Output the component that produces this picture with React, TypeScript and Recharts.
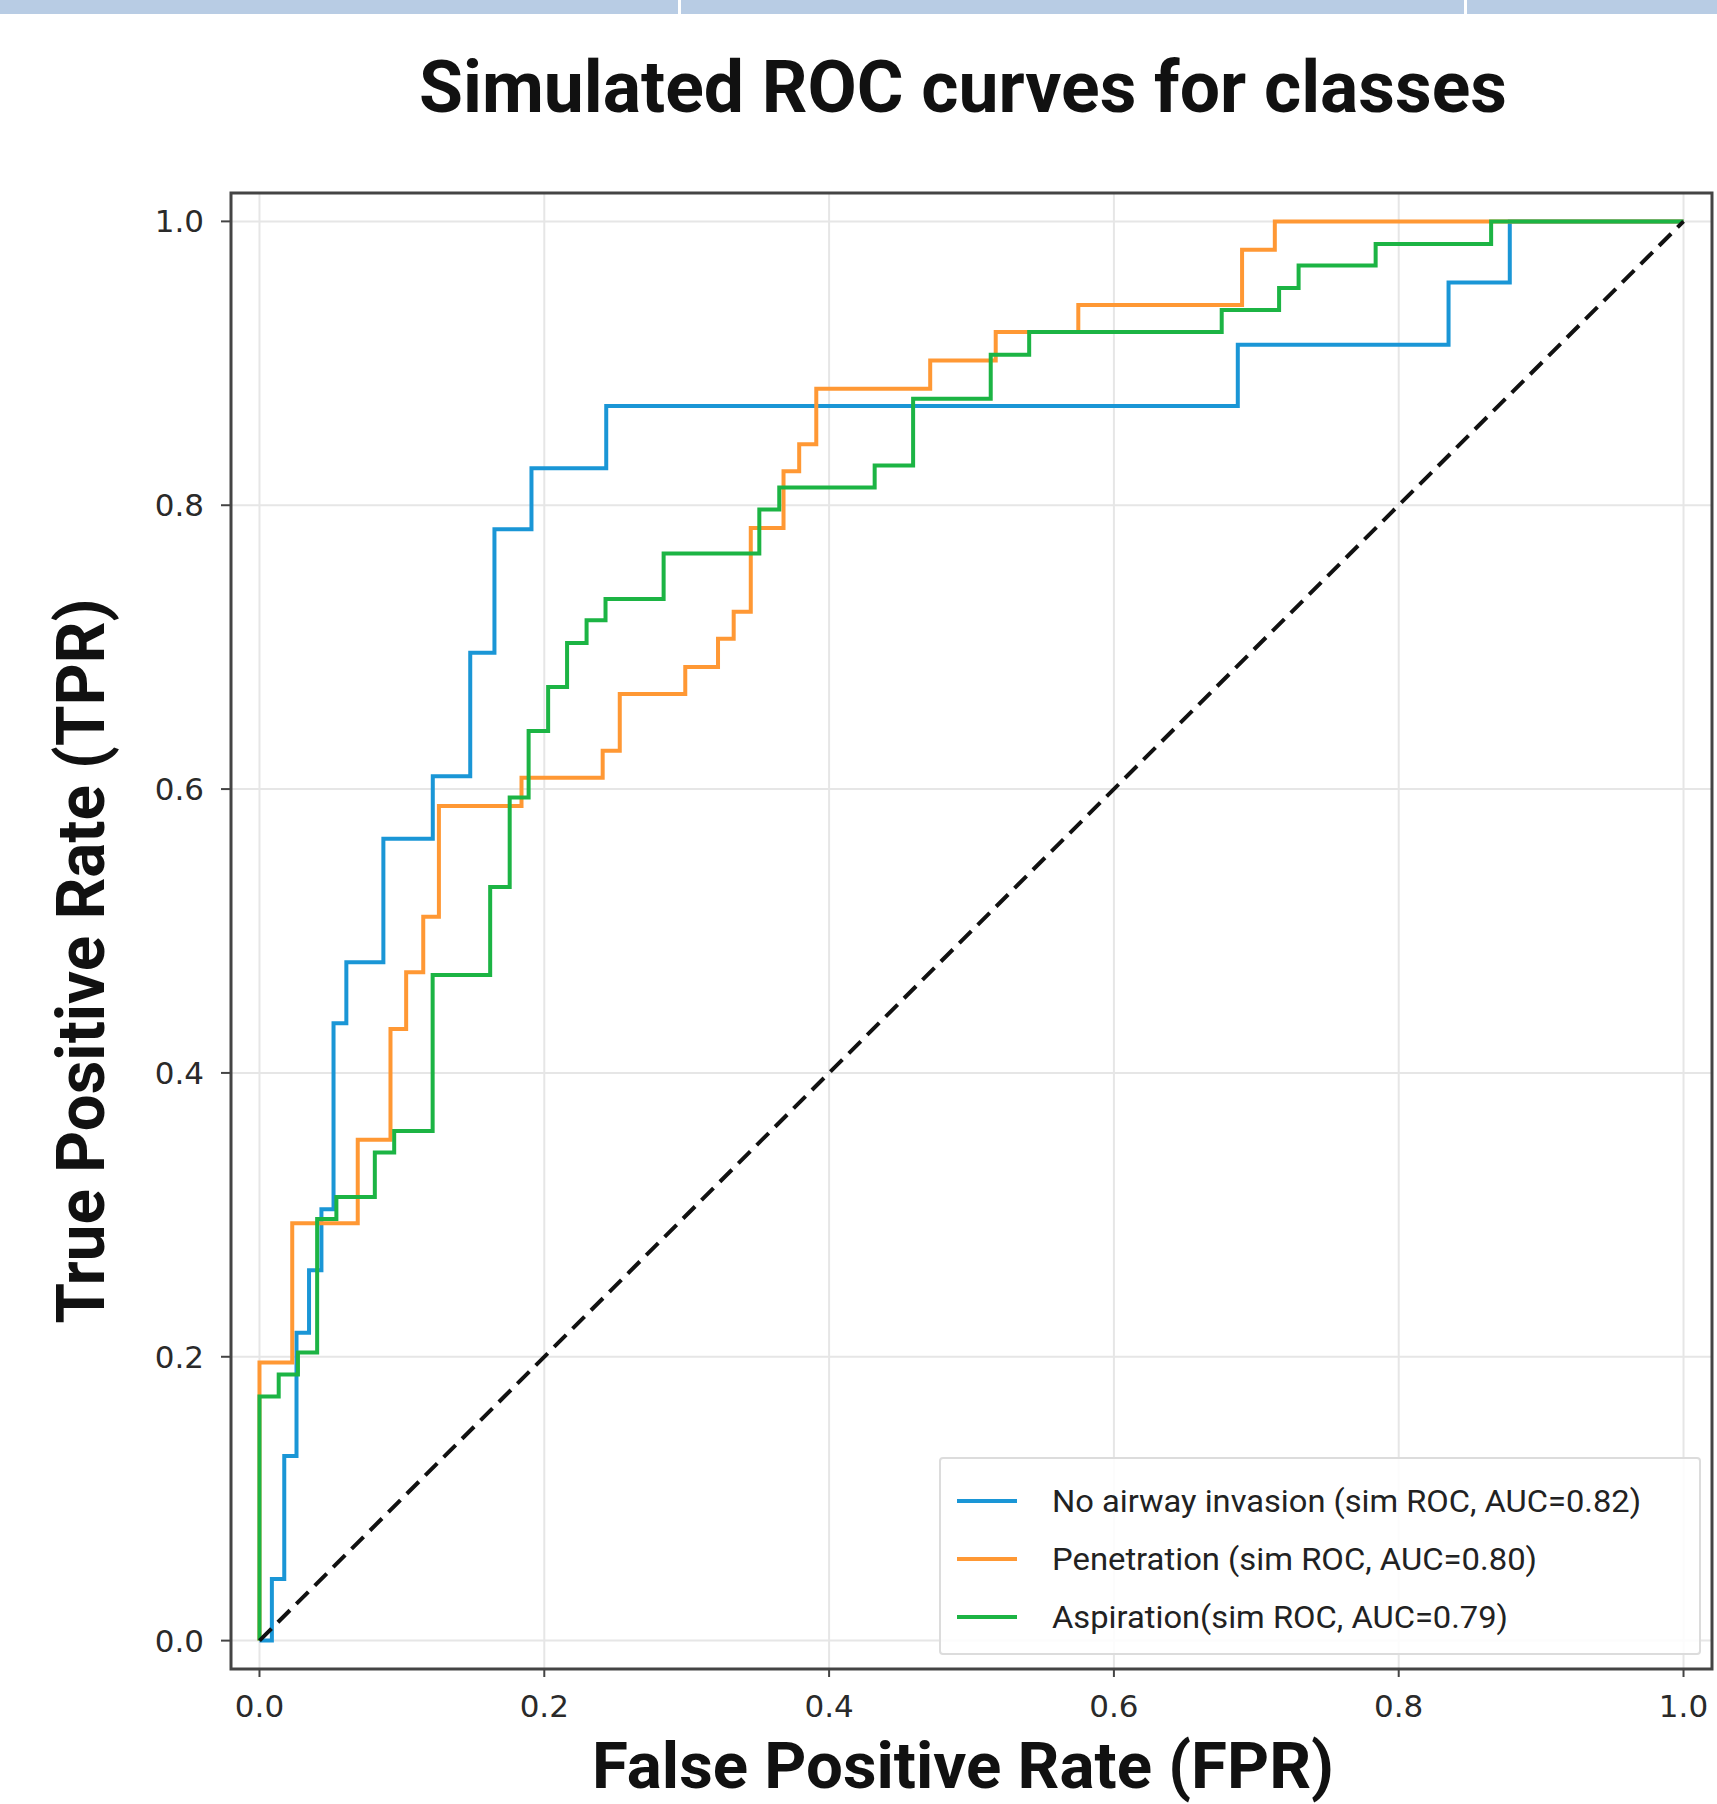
import React from "react";
import {
  LineChart,
  Line,
  XAxis,
  YAxis,
  CartesianGrid,
  ReferenceArea,
  Legend,
} from "recharts";

// ROC points: each (fpr, tpr) is the top of a vertical jump
const noInvasionFpr = [0, 0.0087, 0.0174, 0.026, 0.0348, 0.0435, 0.052, 0.061, 0.087, 0.1217, 0.148, 0.165, 0.191, 0.2435, 0.687, 0.835, 0.878, 1.0];
const noInvasionTpr = [0, 0.0435, 0.13, 0.217, 0.261, 0.304, 0.435, 0.478, 0.565, 0.609, 0.696, 0.783, 0.826, 0.87, 0.913, 0.957, 1.0, 1.0];

const penetrationFpr = [0, 0, 0.023, 0.069, 0.092, 0.103, 0.115, 0.126, 0.184, 0.241, 0.253, 0.299, 0.322, 0.333, 0.345, 0.368, 0.379, 0.391, 0.471, 0.517, 0.575, 0.69, 0.713, 1.0];
const penetrationTpr = [0, 0.196, 0.294, 0.353, 0.431, 0.471, 0.51, 0.588, 0.608, 0.627, 0.667, 0.686, 0.706, 0.725, 0.784, 0.824, 0.843, 0.882, 0.902, 0.922, 0.941, 0.98, 1.0, 1.0];

const aspirationFpr = [0, 0, 0.0135, 0.027, 0.0405, 0.054, 0.081, 0.0946, 0.1216, 0.162, 0.1757, 0.189, 0.2027, 0.216, 0.2297, 0.243, 0.2838, 0.351, 0.365, 0.432, 0.459, 0.5135, 0.5405, 0.6757, 0.716, 0.7297, 0.7838, 0.8649, 1.0];
const aspirationTpr = [0, 0.172, 0.1875, 0.203, 0.297, 0.3125, 0.344, 0.359, 0.469, 0.531, 0.594, 0.641, 0.672, 0.703, 0.719, 0.734, 0.766, 0.797, 0.8125, 0.828, 0.875, 0.906, 0.922, 0.9375, 0.953, 0.969, 0.984, 1.0, 1.0];

const chanceFpr = [0, 1];
const chanceTpr = [0, 1];

const seriesNames = [
  "No airway invasion (sim ROC, AUC=0.82)",
  "Penetration (sim ROC, AUC=0.80)",
  "Aspiration(sim ROC, AUC=0.79)",
];
const seriesColors = ["#1a96d6", "#ff9834", "#1cb444"];

const tickValues = [0, 0.2, 0.4, 0.6, 0.8, 1.0];

const toPoints = (xs: number[], ys: number[]) => xs.map((x, i) => ({ x, y: ys[i] }));

const noInvasion = toPoints(noInvasionFpr, noInvasionTpr);
const penetration = toPoints(penetrationFpr, penetrationTpr);
const aspiration = toPoints(aspirationFpr, aspirationTpr);
const chance = toPoints(chanceFpr, chanceTpr);

const legendTextLength = [589, 485, 456];

function RocLegend() {
  return (
    <div
      style={{
        width: 762,
        height: 198,
        border: "2px solid #dcdcdc",
        borderRadius: 4,
        background: "rgba(255,255,255,0.85)",
        boxSizing: "border-box",
      }}
    >
      <svg width={758} height={194}>
        {seriesNames.map((name, i) => {
          const cy = 42 + i * 58;
          return (
            <g key={name}>
              <line x1={16} x2={76} y1={cy} y2={cy} stroke={seriesColors[i]} strokeWidth={4} />
              <text
                x={111}
                y={cy + 11}
                fontFamily="Roboto"
                fontSize={32}
                fill="#222"
                textLength={legendTextLength[i]}
                lengthAdjust="spacingAndGlyphs"
              >
                {name}
              </text>
            </g>
          );
        })}
      </svg>
    </div>
  );
}

export default function App() {
  return (
    <div
      style={{
        position: "absolute",
        left: 0,
        top: 0,
        width: 1717,
        height: 1804,
        background: "#fff",
        overflow: "hidden",
      }}
    >
      {/* strip of the table header above the figure */}
      <div style={{ position: "absolute", left: 0, top: 0, width: 1717, height: 14, background: "#b8cce4" }} />
      <div style={{ position: "absolute", left: 678, top: 0, width: 3, height: 14, background: "#fff" }} />
      <div style={{ position: "absolute", left: 1464, top: 0, width: 3, height: 14, background: "#fff" }} />

      <div style={{ position: "absolute", left: 0, top: 0 }}>
        <LineChart width={1717} height={1804} margin={{ top: 193, right: 5, bottom: 0, left: 0 }}>
          <CartesianGrid stroke="#e6e6e6" strokeWidth={2} />
          <XAxis
            dataKey="x"
            type="number"
            domain={[-0.02, 1.02]}
            allowDataOverflow
            ticks={tickValues}
            tickFormatter={(v: number) => v.toFixed(1)}
            height={135}
            tickSize={8}
            tickMargin={18}
            axisLine={false}
            tickLine={{ stroke: "#444", strokeWidth: 2 }}
            tick={{ fontFamily: "DejaVu Sans", fontSize: 31, fill: "#2a2a2a" }}
          />
          <YAxis
            dataKey="y"
            type="number"
            domain={[-0.02, 1.02]}
            allowDataOverflow
            ticks={tickValues}
            tickFormatter={(v: number) => v.toFixed(1)}
            width={231}
            tickSize={10}
            tickMargin={17}
            axisLine={false}
            tickLine={{ stroke: "#444", strokeWidth: 2 }}
            tick={{ fontFamily: "DejaVu Sans", fontSize: 31, fill: "#2a2a2a" }}
          />
          <Line
            data={noInvasion}
            dataKey="y"
            name={seriesNames[0]}
            type="stepAfter"
            stroke={seriesColors[0]}
            strokeWidth={4}
            dot={false}
            isAnimationActive={false}
          />
          <Line
            data={penetration}
            dataKey="y"
            name={seriesNames[1]}
            type="stepAfter"
            stroke={seriesColors[1]}
            strokeWidth={4}
            dot={false}
            isAnimationActive={false}
          />
          <Line
            data={aspiration}
            dataKey="y"
            name={seriesNames[2]}
            type="stepAfter"
            stroke={seriesColors[2]}
            strokeWidth={4}
            dot={false}
            isAnimationActive={false}
          />
          <Line
            data={chance}
            dataKey="y"
            name="chance"
            type="linear"
            stroke="#111"
            strokeWidth={4}
            strokeDasharray="17 9"
            dot={false}
            legendType="none"
            isAnimationActive={false}
          />
          <ReferenceArea
            x1={-0.02}
            x2={1.02}
            y1={-0.02}
            y2={1.02}
            fill="none"
            stroke="#444"
            strokeWidth={3}
          />
          <Legend
            layout="vertical"
            align="center"
            verticalAlign="middle"
            content={() => <RocLegend />}
            wrapperStyle={{ left: 939, top: 1457, width: 762, height: 198 }}
          />
        </LineChart>
      </div>

      <svg
        width={1717}
        height={1804}
        style={{ position: "absolute", left: 0, top: 0, pointerEvents: "none" }}
      >
        <text
          x={963}
          y={112}
          textAnchor="middle"
          fontFamily="Roboto"
          fontWeight={700}
          fontSize={72}
          fill="#111"
          textLength={1088}
          lengthAdjust="spacingAndGlyphs"
        >
          Simulated ROC curves for classes
        </text>
        <text
          x={963}
          y={1788}
          textAnchor="middle"
          fontFamily="Roboto"
          fontWeight={700}
          fontSize={64}
          fill="#111"
          textLength={742}
          lengthAdjust="spacingAndGlyphs"
        >
          False Positive Rate (FPR)
        </text>
        <text
          transform="translate(104,961) rotate(-90)"
          x={0}
          y={0}
          textAnchor="middle"
          fontFamily="Roboto"
          fontWeight={700}
          fontSize={66}
          fill="#111"
          textLength={725}
          lengthAdjust="spacingAndGlyphs"
        >
          True Positive Rate (TPR)
        </text>
      </svg>
    </div>
  );
}
